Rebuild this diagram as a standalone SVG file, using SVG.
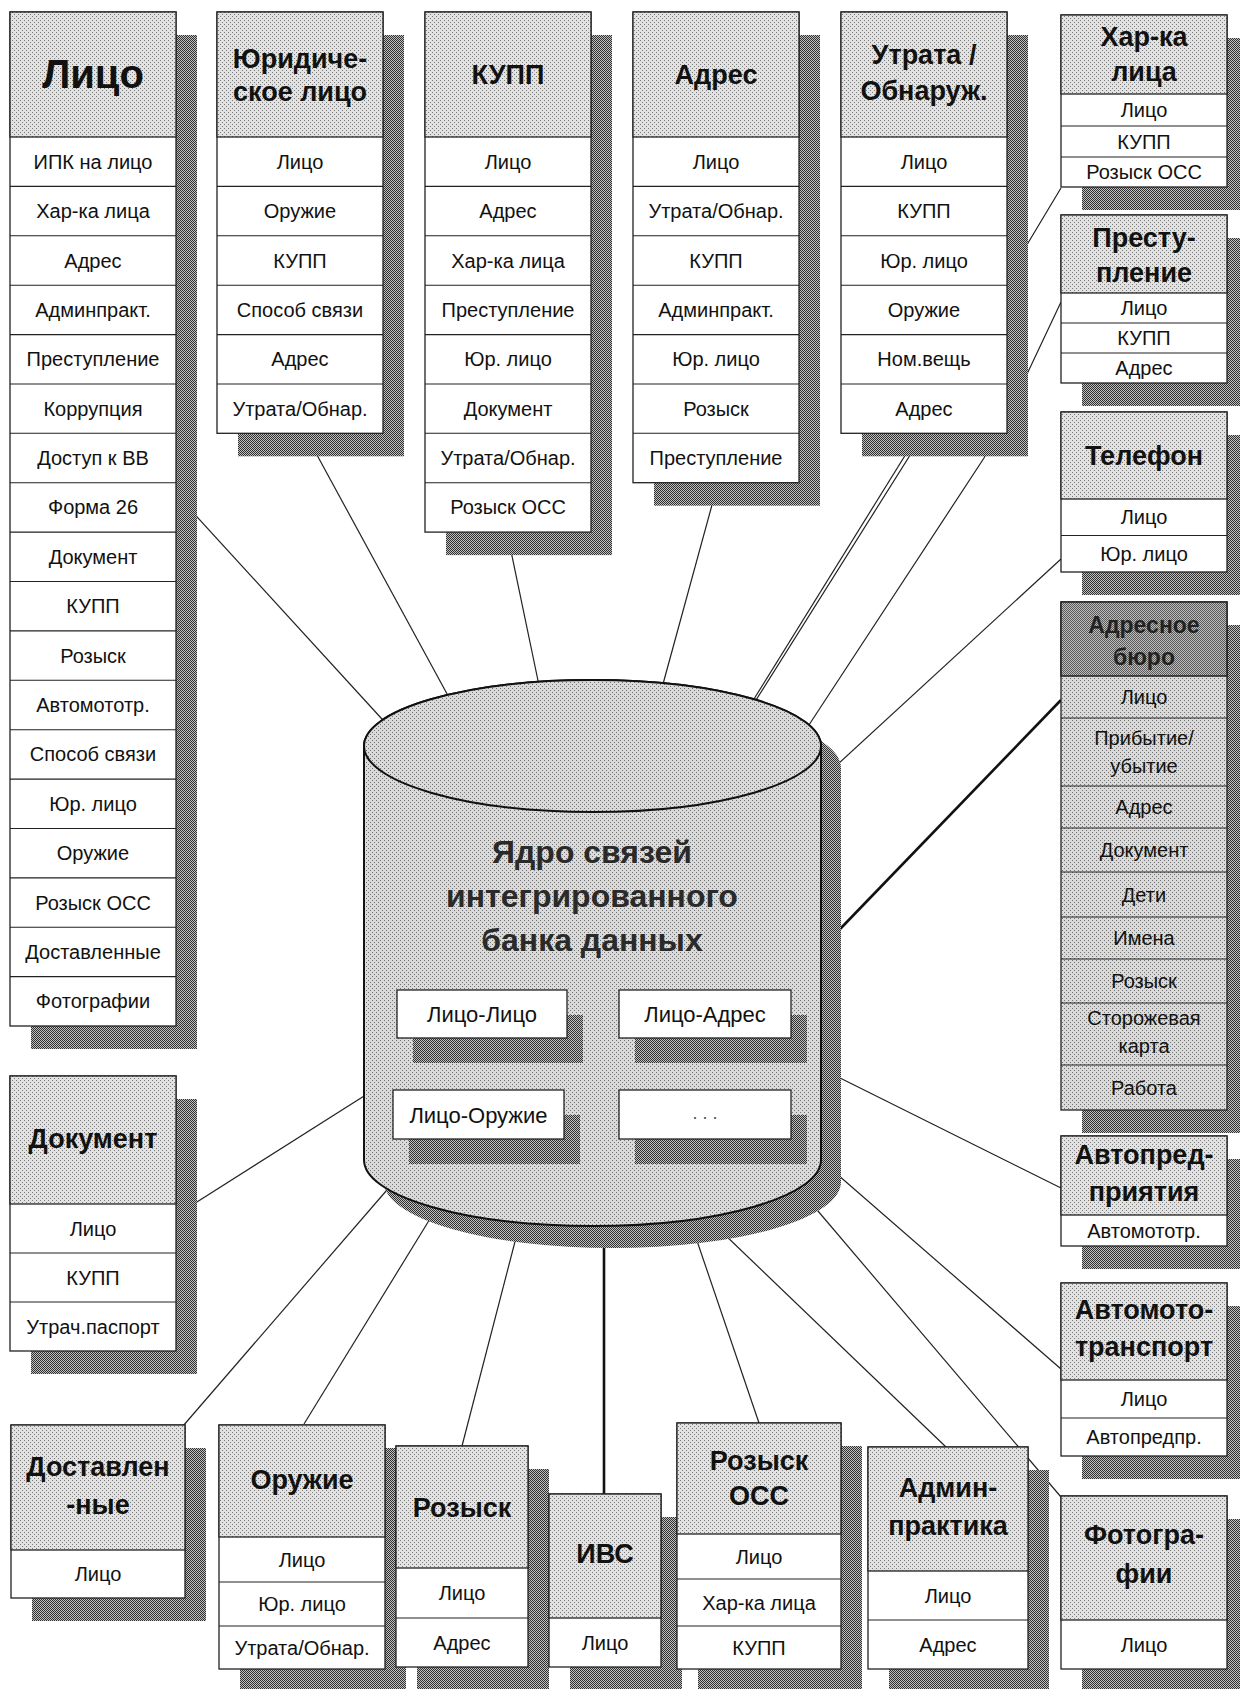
<svg xmlns="http://www.w3.org/2000/svg" width="1240" height="1689" viewBox="0 0 1240 1689">
<defs>
<pattern id="lt" width="4" height="4" patternUnits="userSpaceOnUse"><rect width="4" height="4" fill="#e2e2e2"/><rect width="1" height="1" fill="#7a7a7a"/><rect x="2" y="2" width="1" height="1" fill="#7a7a7a"/></pattern>
<pattern id="lt2" width="4" height="4" patternUnits="userSpaceOnUse"><rect width="4" height="4" fill="#dadada"/><rect width="1" height="1" fill="#707070"/><rect x="2" y="2" width="1" height="1" fill="#707070"/></pattern>
<pattern id="dk" width="2" height="2" patternUnits="userSpaceOnUse"><rect width="2" height="2" fill="#c0c0c0"/><rect width="1" height="1" fill="#303030"/><rect x="1" y="1" width="1" height="1" fill="#303030"/></pattern>
<pattern id="md" width="2" height="2" patternUnits="userSpaceOnUse"><rect width="2" height="2" fill="#bcbcbc"/><rect width="1" height="1" fill="#5a5a5a"/><rect x="1" y="1" width="1" height="1" fill="#5a5a5a"/></pattern>
</defs>
<style>
text{font-family:"Liberation Sans",Arial,Helvetica,sans-serif;fill:#111;text-anchor:middle}
.r{font-size:20px}
.h{font-size:27px;font-weight:bold}
.hb{font-size:40px;font-weight:bold}
.ha{font-size:23px;font-weight:bold;fill:#222}
.ti{font-size:32px;font-weight:bold;fill:#2a2a2a}
.ib{font-size:22px}
.dots{font-size:18px;fill:#555}
.sh{fill:url(#dk)}
.bd{fill:#fff;stroke:#222;stroke-width:1.3}
.hd{fill:url(#lt);stroke:#222;stroke-width:1.3}
.hdk{fill:url(#md);stroke:#222;stroke-width:1.5}
.rl{fill:url(#lt2);stroke:#222;stroke-width:1.3}
.sp{stroke:#222;stroke-width:1.1;fill:none}
.c{stroke:#222;stroke-width:1.2;fill:none}
.ck{stroke:#111;stroke-width:2.6;fill:none}
</style>
<rect width="1240" height="1689" fill="#fff"/>

<g id="connectors">
<line class="c" x1="177" y1="495" x2="392" y2="730"/>
<line class="c" x1="305" y1="433" x2="452" y2="703"/>
<line class="c" x1="507" y1="532" x2="541" y2="695"/>
<line class="c" x1="718" y1="483" x2="660" y2="695"/>
<line class="c" x1="919" y1="433" x2="749" y2="707"/>
<polyline class="c" points="1061,188 1028,243 924,433 751,708"/>
<polyline class="c" points="1061,302 1028,372 984,458 805,731"/>
<line class="c" x1="1061" y1="559" x2="825" y2="776"/>
<line class="ck" x1="1061" y1="700" x2="815" y2="955"/>
<line class="c" x1="1061" y1="1188" x2="830" y2="1073"/>
<line class="c" x1="1061" y1="1369" x2="830" y2="1168"/>
<line class="c" x1="1061" y1="1497" x2="812" y2="1204"/>
<line class="c" x1="946" y1="1447" x2="722" y2="1232"/>
<line class="c" x1="759" y1="1423" x2="695" y2="1235"/>
<line class="ck" x1="604" y1="1494" x2="604" y2="1240"/>
<line class="c" x1="462" y1="1446" x2="518" y2="1230"/>
<line class="c" x1="304" y1="1424" x2="433" y2="1214"/>
<line class="c" x1="183" y1="1426" x2="393" y2="1183"/>
<line class="c" x1="178" y1="1214" x2="372" y2="1091"/>
</g>

<g id="core">
<path d="M384,768 V1182 A228.5,66 0 0 0 841,1182 V768 A228.5,66 0 0 0 384,768 Z" fill="url(#dk)"/>
<path d="M364,746 V1160 A228.5,66 0 0 0 821,1160 V746 A228.5,66 0 0 0 364,746 Z" fill="url(#lt2)" stroke="#111" stroke-width="2"/>
<ellipse cx="592.5" cy="746" rx="228.5" ry="66" fill="url(#lt2)" stroke="#111" stroke-width="2"/>
<text class="ti" x="592" y="863">Ядро связей</text>
<text class="ti" x="592" y="907">интегрированного</text>
<text class="ti" x="592" y="951">банка данных</text>
<rect class="sh" x="413" y="1015" width="170" height="48"/>
<rect class="sh" x="635" y="1015" width="172" height="48"/>
<rect class="sh" x="409" y="1115" width="171" height="49"/>
<rect class="sh" x="635" y="1115" width="172" height="49"/>
<rect class="bd" x="397" y="990" width="170" height="48"/>
<rect class="bd" x="619" y="990" width="172" height="48"/>
<rect class="bd" x="393" y="1090" width="171" height="49"/>
<rect class="bd" x="619" y="1090" width="172" height="49"/>
<text class="ib" x="482" y="1022">Лицо-Лицо</text>
<text class="ib" x="705" y="1022">Лицо-Адрес</text>
<text class="ib" x="478.5" y="1122.5">Лицо-Оружие</text>
<text class="dots" x="705" y="1119">. . .</text>
</g>

<g id="n-lico">
<rect class="sh" x="31" y="35" width="166" height="1014"/>
<rect class="bd" x="10" y="12" width="166" height="1014"/>
<rect class="hd" x="10" y="12" width="166" height="125"/>
<path class="sp" d="M10 186.4H176M10 235.8H176M10 285.2H176M10 334.6H176M10 384H176M10 433.3H176M10 482.7H176M10 532.1H176M10 581.5H176M10 630.9H176M10 680.3H176M10 729.7H176M10 779.1H176M10 828.5H176M10 877.9H176M10 927.2H176M10 976.6H176"/>
<text class="hb" x="93" y="88">Лицо</text>
<text class="r" x="93" y="168.7">ИПК на лицо</text>
<text class="r" x="93" y="218.1">Хар-ка лица</text>
<text class="r" x="93" y="267.5">Адрес</text>
<text class="r" x="93" y="316.9">Админпракт.</text>
<text class="r" x="93" y="366.3">Преступление</text>
<text class="r" x="93" y="415.7">Коррупция</text>
<text class="r" x="93" y="465">Доступ к ВВ</text>
<text class="r" x="93" y="514.4">Форма 26</text>
<text class="r" x="93" y="563.8">Документ</text>
<text class="r" x="93" y="613.2">КУПП</text>
<text class="r" x="93" y="662.6">Розыск</text>
<text class="r" x="93" y="712">Автомототр.</text>
<text class="r" x="93" y="761.4">Способ связи</text>
<text class="r" x="93" y="810.8">Юр. лицо</text>
<text class="r" x="93" y="860.2">Оружие</text>
<text class="r" x="93" y="909.6">Розыск ОСС</text>
<text class="r" x="93" y="959">Доставленные</text>
<text class="r" x="93" y="1008.3">Фотографии</text>
</g>

<g id="n-yurlico">
<rect class="sh" x="238" y="35" width="166" height="421.3"/>
<rect class="bd" x="217" y="12" width="166" height="421.3"/>
<rect class="hd" x="217" y="12" width="166" height="125"/>
<path class="sp" d="M217 186.4H383M217 235.8H383M217 285.2H383M217 334.6H383M217 384H383"/>
<text class="h" x="300" y="68">Юридиче-</text>
<text class="h" x="300" y="101">ское лицо</text>
<text class="r" x="300" y="168.7">Лицо</text>
<text class="r" x="300" y="218.1">Оружие</text>
<text class="r" x="300" y="267.5">КУПП</text>
<text class="r" x="300" y="316.9">Способ связи</text>
<text class="r" x="300" y="366.3">Адрес</text>
<text class="r" x="300" y="415.7">Утрата/Обнар.</text>
</g>

<g id="n-kupp">
<rect class="sh" x="446" y="35" width="166" height="520.1"/>
<rect class="bd" x="425" y="12" width="166" height="520.1"/>
<rect class="hd" x="425" y="12" width="166" height="125"/>
<path class="sp" d="M425 186.4H591M425 235.8H591M425 285.2H591M425 334.6H591M425 384H591M425 433.3H591M425 482.7H591"/>
<text class="h" x="508" y="84">КУПП</text>
<text class="r" x="508" y="168.7">Лицо</text>
<text class="r" x="508" y="218.1">Адрес</text>
<text class="r" x="508" y="267.5">Хар-ка лица</text>
<text class="r" x="508" y="316.9">Преступление</text>
<text class="r" x="508" y="366.3">Юр. лицо</text>
<text class="r" x="508" y="415.7">Документ</text>
<text class="r" x="508" y="465">Утрата/Обнар.</text>
<text class="r" x="508" y="514.4">Розыск ОСС</text>
</g>

<g id="n-adres">
<rect class="sh" x="654" y="35" width="166" height="470.7"/>
<rect class="bd" x="633" y="12" width="166" height="470.7"/>
<rect class="hd" x="633" y="12" width="166" height="125"/>
<path class="sp" d="M633 186.4H799M633 235.8H799M633 285.2H799M633 334.6H799M633 384H799M633 433.3H799"/>
<text class="h" x="716" y="84">Адрес</text>
<text class="r" x="716" y="168.7">Лицо</text>
<text class="r" x="716" y="218.1">Утрата/Обнар.</text>
<text class="r" x="716" y="267.5">КУПП</text>
<text class="r" x="716" y="316.9">Админпракт.</text>
<text class="r" x="716" y="366.3">Юр. лицо</text>
<text class="r" x="716" y="415.7">Розыск</text>
<text class="r" x="716" y="465">Преступление</text>
</g>

<g id="n-utrata">
<rect class="sh" x="862" y="35" width="166" height="421.3"/>
<rect class="bd" x="841" y="12" width="166" height="421.3"/>
<rect class="hd" x="841" y="12" width="166" height="125"/>
<path class="sp" d="M841 186.4H1007M841 235.8H1007M841 285.2H1007M841 334.6H1007M841 384H1007"/>
<text class="h" x="924" y="64">Утрата /</text>
<text class="h" x="924" y="100">Обнаруж.</text>
<text class="r" x="924" y="168.7">Лицо</text>
<text class="r" x="924" y="218.1">КУПП</text>
<text class="r" x="924" y="267.5">Юр. лицо</text>
<text class="r" x="924" y="316.9">Оружие</text>
<text class="r" x="924" y="366.3">Ном.вещь</text>
<text class="r" x="924" y="415.7">Адрес</text>
</g>

<g id="n-harka">
<rect class="sh" x="1082" y="38" width="166" height="172"/>
<rect class="bd" x="1061" y="15" width="166" height="172"/>
<rect class="hd" x="1061" y="15" width="166" height="79"/>
<path class="sp" d="M1061 126H1227M1061 157H1227"/>
<text class="h" x="1144" y="46">Хар-ка</text>
<text class="h" x="1144" y="81">лица</text>
<text class="r" x="1144" y="117">Лицо</text>
<text class="r" x="1144" y="148.5">КУПП</text>
<text class="r" x="1144" y="179">Розыск ОСС</text>
</g>

<g id="n-prestuplenie">
<rect class="sh" x="1082" y="238" width="166" height="168"/>
<rect class="bd" x="1061" y="215" width="166" height="168"/>
<rect class="hd" x="1061" y="215" width="166" height="78"/>
<path class="sp" d="M1061 323H1227M1061 353H1227"/>
<text class="h" x="1144" y="247">Престу-</text>
<text class="h" x="1144" y="282">пление</text>
<text class="r" x="1144" y="315">Лицо</text>
<text class="r" x="1144" y="345">КУПП</text>
<text class="r" x="1144" y="375">Адрес</text>
</g>

<g id="n-telefon">
<rect class="sh" x="1082" y="435" width="166" height="160"/>
<rect class="bd" x="1061" y="412" width="166" height="160"/>
<rect class="hd" x="1061" y="412" width="166" height="87"/>
<path class="sp" d="M1061 535.5H1227"/>
<text class="h" x="1144" y="465">Телефон</text>
<text class="r" x="1144" y="524">Лицо</text>
<text class="r" x="1144" y="561">Юр. лицо</text>
</g>

<g id="n-adresnoe-byuro">
<rect class="sh" x="1082" y="625" width="166" height="508"/>
<rect class="rl" x="1061" y="602" width="166" height="508"/>
<rect class="hdk" x="1061" y="602" width="166" height="74"/>
<path class="sp" d="M1061 718H1227M1061 786H1227M1061 828H1227M1061 872H1227M1061 917H1227M1061 959H1227M1061 1003H1227M1061 1065H1227"/>
<text class="ha" x="1144" y="633">Адресное</text>
<text class="ha" x="1144" y="665">бюро</text>
<text class="r" x="1144" y="704">Лицо</text>
<text class="r" x="1144" y="745">Прибытие/</text>
<text class="r" x="1144" y="773">убытие</text>
<text class="r" x="1144" y="814">Адрес</text>
<text class="r" x="1144" y="857">Документ</text>
<text class="r" x="1144" y="901.5">Дети</text>
<text class="r" x="1144" y="945">Имена</text>
<text class="r" x="1144" y="988">Розыск</text>
<text class="r" x="1144" y="1025">Сторожевая</text>
<text class="r" x="1144" y="1053">карта</text>
<text class="r" x="1144" y="1094.5">Работа</text>
</g>

<g id="n-avtopred">
<rect class="sh" x="1082" y="1159" width="166" height="110"/>
<rect class="bd" x="1061" y="1136" width="166" height="110"/>
<rect class="hd" x="1061" y="1136" width="166" height="79"/>
<text class="h" x="1144" y="1164">Автопред-</text>
<text class="h" x="1144" y="1201">приятия</text>
<text class="r" x="1144" y="1237.5">Автомототр.</text>
</g>

<g id="n-avtomoto">
<rect class="sh" x="1082" y="1306" width="166" height="173"/>
<rect class="bd" x="1061" y="1283" width="166" height="173"/>
<rect class="hd" x="1061" y="1283" width="166" height="97"/>
<path class="sp" d="M1061 1418H1227"/>
<text class="h" x="1144" y="1319">Автомото-</text>
<text class="h" x="1144" y="1356">транспорт</text>
<text class="r" x="1144" y="1406">Лицо</text>
<text class="r" x="1144" y="1444">Автопредпр.</text>
</g>

<g id="n-foto">
<rect class="sh" x="1082" y="1519" width="166" height="173"/>
<rect class="bd" x="1061" y="1496" width="166" height="173"/>
<rect class="hd" x="1061" y="1496" width="166" height="124"/>
<text class="h" x="1144" y="1544">Фотогра-</text>
<text class="h" x="1144" y="1583">фии</text>
<text class="r" x="1144" y="1651.5">Лицо</text>
</g>

<g id="n-dostavlennye">
<rect class="sh" x="32" y="1448" width="174" height="173"/>
<rect class="bd" x="11" y="1425" width="174" height="173"/>
<rect class="hd" x="11" y="1425" width="174" height="125"/>
<text class="h" x="98" y="1476">Доставлен</text>
<text class="h" x="98" y="1514">-ные</text>
<text class="r" x="98" y="1581">Лицо</text>
</g>

<g id="n-oruzhie">
<rect class="sh" x="240" y="1448" width="166" height="244"/>
<rect class="bd" x="219" y="1425" width="166" height="244"/>
<rect class="hd" x="219" y="1425" width="166" height="112"/>
<path class="sp" d="M219 1582H385M219 1626H385"/>
<text class="h" x="302" y="1489">Оружие</text>
<text class="r" x="302" y="1566.5">Лицо</text>
<text class="r" x="302" y="1611">Юр. лицо</text>
<text class="r" x="302" y="1654.5">Утрата/Обнар.</text>
</g>

<g id="n-rozysk">
<rect class="sh" x="417" y="1469" width="132" height="221"/>
<rect class="bd" x="396" y="1446" width="132" height="221"/>
<rect class="hd" x="396" y="1446" width="132" height="122"/>
<path class="sp" d="M396 1618H528"/>
<text class="h" x="462" y="1517">Розыск</text>
<text class="r" x="462" y="1600">Лицо</text>
<text class="r" x="462" y="1649.5">Адрес</text>
</g>

<g id="n-ivs">
<rect class="sh" x="570" y="1517" width="112" height="173"/>
<rect class="bd" x="549" y="1494" width="112" height="173"/>
<rect class="hd" x="549" y="1494" width="112" height="124"/>
<text class="h" x="605" y="1563">ИВС</text>
<text class="r" x="605" y="1649.5">Лицо</text>
</g>

<g id="n-rozysk-oss">
<rect class="sh" x="698" y="1446" width="164" height="246"/>
<rect class="bd" x="677" y="1423" width="164" height="246"/>
<rect class="hd" x="677" y="1423" width="164" height="111"/>
<path class="sp" d="M677 1579H841M677 1626H841"/>
<text class="h" x="759" y="1470">Розыск</text>
<text class="h" x="759" y="1505">ОСС</text>
<text class="r" x="759" y="1563.5">Лицо</text>
<text class="r" x="759" y="1609.5">Хар-ка лица</text>
<text class="r" x="759" y="1654.5">КУПП</text>
</g>

<g id="n-adminpraktika">
<rect class="sh" x="889" y="1470" width="160" height="222"/>
<rect class="bd" x="868" y="1447" width="160" height="222"/>
<rect class="hd" x="868" y="1447" width="160" height="124"/>
<path class="sp" d="M868 1620H1028"/>
<text class="h" x="948" y="1497">Админ-</text>
<text class="h" x="948" y="1535">практика</text>
<text class="r" x="948" y="1602.5">Лицо</text>
<text class="r" x="948" y="1651.5">Адрес</text>
</g>

<g id="n-dokument">
<rect class="sh" x="31" y="1099" width="166" height="275"/>
<rect class="bd" x="10" y="1076" width="166" height="275"/>
<rect class="hd" x="10" y="1076" width="166" height="128"/>
<path class="sp" d="M10 1253H176M10 1302H176"/>
<text class="h" x="93" y="1148">Документ</text>
<text class="r" x="93" y="1235.5">Лицо</text>
<text class="r" x="93" y="1284.5">КУПП</text>
<text class="r" x="93" y="1333.5">Утрач.паспорт</text>
</g>
</svg>
